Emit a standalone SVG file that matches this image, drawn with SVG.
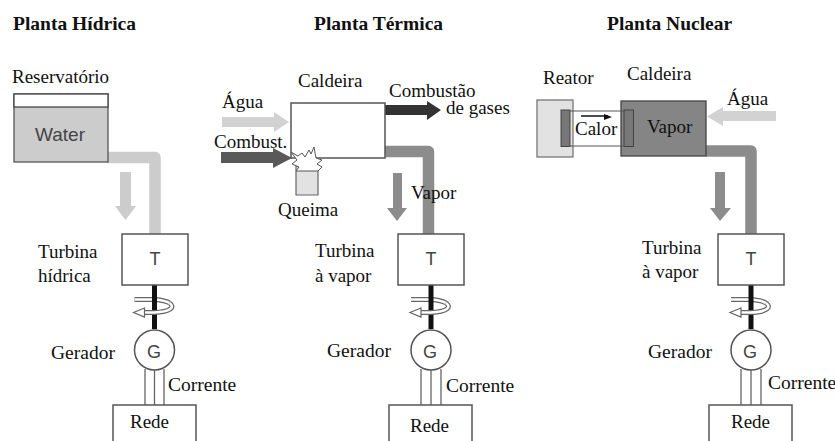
<svg xmlns="http://www.w3.org/2000/svg" width="835" height="441" viewBox="0 0 835 441">
<style>
text{font-family:"Liberation Serif","Times New Roman",serif;font-size:19px;fill:#111}
.t{font-weight:bold;font-size:19.500px}
.w{font-size:19.500px}
.s{font-family:"Liberation Sans",Arial,sans-serif;fill:#444}
.l{font-size:18px}
.b{fill:#fff;stroke:#555;stroke-width:1.5}
.p{fill:none;stroke-width:11.500;stroke-linejoin:round}
.c{fill:none;stroke:#666;stroke-width:1.3}
.ro{fill:none;stroke:#666;stroke-width:5}
.ri{fill:none;stroke:#fff;stroke-width:2.600}
</style>
<defs>
<g id="spin-back"><path class="ro" d="M-20 -12.500H0C6 -12 12 -11 15 -9"/><path class="ri" d="M-20 -12.500H0C6 -12 12 -11 15 -9"/></g>
<g id="spin-front"><path class="ro" d="M15 -9C21 -5 16 0 0 0.500H-12"/><path class="ri" d="M15 -9C21 -5 16 0 0 0.500H-12"/><path d="M-10 -4L-21 0.500L-10 5Z" fill="#fff" stroke="#666" stroke-width="1.200"/></g>
</defs>
<rect width="835" height="441" fill="#fff"/>
<g id="connectors">
<path class="p" stroke="#ccc" d="M107 157.500H155V234"/>
<path class="p" stroke="#8c8c8c" d="M385 151.500H428.500V234"/>
<path class="p" stroke="#8c8c8c" d="M706 151H751V234"/>
<path fill="#ccc" d="M120 172H131V206H136L125.500 220L115 206H120Z"/>
<path fill="#d2d2d2" d="M222 117H274V112L289 122L274 132V127H222Z"/>
<path fill="#595959" d="M221 152H273V148L292 158L273 168V163H221Z"/>
<path fill="#333" d="M385 105H427V101L441 110L427 120V115H385Z"/>
<path fill="#8c8c8c" d="M393 173H402V208H407L397 221L387 208H393Z"/>
<path fill="#d2d2d2" d="M776 111H723V107L707 116.500L723 126V121H776Z"/>
<path fill="#8c8c8c" d="M715 172H725V208H731L720 221L710 208H715Z"/>
<path d="M581 116H608" stroke="#111" stroke-width="1.500" fill="none"/><path d="M612 117L604 114V120Z" fill="#111"/>
<use href="#spin-back" x="154.500" y="312"/><use href="#spin-back" x="431" y="312"/><use href="#spin-back" x="751" y="312"/>
<g stroke="#111" stroke-width="5"><path d="M154.500 285V329M431 285V329M751 285V329"/></g>
<use href="#spin-front" x="154.500" y="312"/><use href="#spin-front" x="431" y="312"/><use href="#spin-front" x="751" y="312"/>
<path class="c" d="M145 369V405M154.500 370V405M164 369V405M421 369V405M431 370V405M441 369V405M741 369V405M751 370V405M761 369V405"/>
</g>
<g id="reservatorio">
<rect x="14" y="94" width="94" height="68" fill="#ccc" stroke="#555" stroke-width="1.300"/>
<rect x="14" y="94" width="94" height="13" fill="#fff" stroke="#444" stroke-width="1.300"/>
<text class="s" x="35" y="141">Water</text>
<text x="12" y="83">Reservatório</text>
</g>
<g id="caldeira-termica">
<rect class="b" x="291" y="103" width="94" height="55"/>
<text x="298" y="87">Caldeira</text>
<path d="M296 166V195H318V170Z" fill="#e2e2e2" stroke="#666" stroke-width="1.200"/>
<path d="M291 152L298 156L302 153L305 157L309 150L311 154L314 147L316 158L322 160L317 164L322 167L318 171L296 171L299 167L292 164L297 160Z" fill="#fff" stroke="#555" stroke-width="1"/>
<text x="278" y="216">Queima</text>
</g>
<g id="reator">
<rect x="537" y="100" width="36" height="57" fill="#e2e2e2" stroke="#777" stroke-width="1.300"/>
<rect x="561" y="110" width="9" height="36.500" fill="#777" stroke="#444"/>
<text x="543" y="84">Reator</text>
</g>
<g id="caldeira-nuclear">
<rect x="621" y="101" width="85" height="55" fill="#858585" stroke="#444" stroke-width="1.300"/>
<rect x="624" y="110" width="9.500" height="36.500" fill="#777" stroke="#444"/>
<path d="M570 111H624M570 146H624" stroke="#555" fill="none"/>
<text x="627" y="80">Caldeira</text>
<text x="647" y="133">Vapor</text>
<text x="575" y="135">Calor</text>
</g>
<g id="turbina-1"><rect class="b" x="122" y="234" width="66" height="51"/><text class="s l" x="155" y="265" text-anchor="middle">T</text></g>
<g id="gerador-1"><circle class="b" cx="154.500" cy="350" r="20"/><text class="s l" x="154" y="358" text-anchor="middle">G</text></g>
<g id="rede-1"><path class="b" d="M113 441V405H196V441"/><text x="130" y="428">Rede</text></g>
<g id="turbina-2"><rect class="b" x="398" y="234" width="66" height="51"/><text class="s l" x="431" y="265" text-anchor="middle">T</text></g>
<g id="gerador-2"><circle class="b" cx="431" cy="350" r="20"/><text class="s l" x="430" y="358" text-anchor="middle">G</text></g>
<g id="rede-2"><path class="b" d="M389 441V405H472V441"/><text x="410" y="432">Rede</text></g>
<g id="turbina-3"><rect class="b" x="718" y="234" width="66" height="51"/><text class="s l" x="751" y="265" text-anchor="middle">T</text></g>
<g id="gerador-3"><circle class="b" cx="751" cy="350" r="20"/><text class="s l" x="750" y="358" text-anchor="middle">G</text></g>
<g id="rede-3"><path class="b" d="M709 441V405H792V441"/><text x="731" y="428">Rede</text></g>
<g id="labels">
<text class="t" x="13" y="30">Planta Hídrica</text>
<text class="t" x="314" y="30">Planta Térmica</text>
<text class="t" x="607" y="30">Planta Nuclear</text>
<text x="222" y="108">Água</text>
<text x="214" y="148">Combust.</text>
<text x="389" y="97">Combustão</text>
<text x="446" y="114">de gases</text>
<text x="411" y="199">Vapor</text>
<text x="727" y="105">Água</text>
<text x="38" y="258">Turbina</text>
<text x="38" y="282">hídrica</text>
<text class="w" x="51" y="359">Gerador</text>
<text class="w" x="168" y="391">Corrente</text>
<text x="315" y="257">Turbina</text>
<text x="315" y="282">à vapor</text>
<text class="w" x="327" y="357">Gerador</text>
<text class="w" x="446" y="392">Corrente</text>
<text x="642" y="254">Turbina</text>
<text x="642" y="278">à vapor</text>
<text class="w" x="648" y="358">Gerador</text>
<text class="w" x="768" y="389">Corrente</text>
</g>
</svg>
